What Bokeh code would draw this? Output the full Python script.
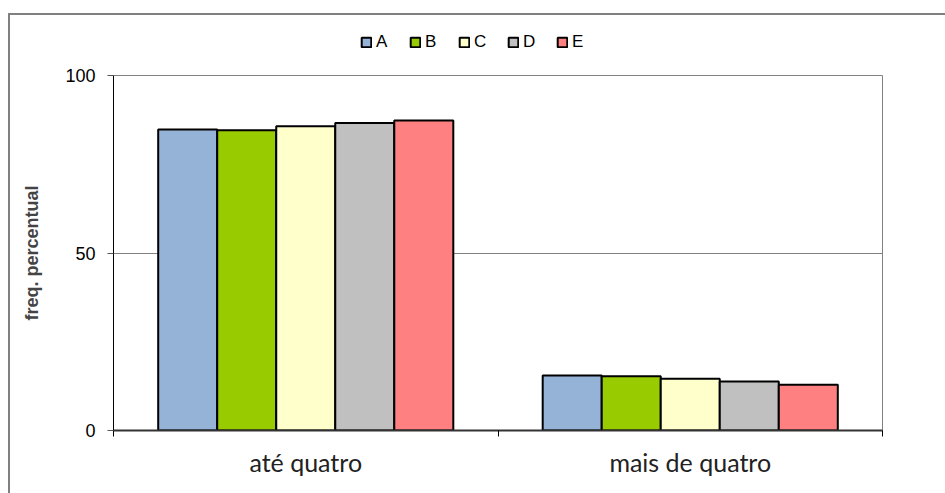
from bokeh.plotting import figure
from bokeh.models import Range1d, FixedTicker, ColumnDataSource, Legend, LegendItem, Grid
from bokeh.layouts import column
from bokeh.embed import file_html
from bokeh.resources import INLINE

categories = ["até quatro", "mais de quatro"]
series = ["A", "B", "C", "D", "E"]
values_A = [84.8, 15.5]
values_B = [84.6, 15.3]
values_C = [85.7, 14.6]
values_D = [86.6, 13.8]
values_E = [87.3, 12.9]
colors = ["#95B3D7", "#99CC00", "#FFFFCC", "#C0C0C0", "#FF8080"]
y_ticks = [0, 50, 100]

all_values = [values_A, values_B, values_C, values_D, values_E]
centers = [i + 0.5 for i in range(len(categories))]
bar_w = 0.1535

# ---- legend strip ----
leg = figure(width=935, height=46, output_backend="svg", toolbar_location=None,
             x_range=Range1d(0, 1), y_range=Range1d(0, 1),
             min_border_left=0, min_border_right=0, min_border_top=0, min_border_bottom=0)
leg.axis.visible = False
leg.grid.visible = False
leg.outline_line_color = None

# ---- main plot ----
p = figure(width=935, height=432, output_backend="svg", toolbar_location=None,
           x_range=Range1d(0, len(categories)), y_range=Range1d(0, 100),
           min_border_left=103, min_border_right=63, min_border_top=14, min_border_bottom=63)

n = len(series)
items = []
for k, (name, vals, col) in enumerate(zip(series, all_values, colors)):
    off = (k - (n - 1) / 2) * bar_w
    src = ColumnDataSource(dict(x=[c + off for c in centers], top=vals))
    p.vbar(x="x", top="top", width=bar_w, bottom=0, source=src, fill_color=col,
           line_color="black", line_width=2)
    # hidden swatch renderer used only for the legend strip
    dummy = leg.vbar(x=[0.5], top=[1], width=0.1, fill_color=col, line_color="black", line_width=2)
    dummy.visible = False
    items.append(LegendItem(label=name, renderers=[dummy]))

p.background_fill_color = "white"
p.border_fill_color = "white"
p.outline_line_color = "#808080"
p.outline_line_width = 1

# x axis
p.xaxis.ticker = FixedTicker(ticks=centers, minor_ticks=list(range(len(categories) + 1)))
p.xaxis.major_label_overrides = {c: lab for c, lab in zip(centers, categories)}
p.xaxis.major_tick_line_color = None
p.xaxis.minor_tick_line_color = "black"
p.xaxis.minor_tick_out = 6
p.xaxis.minor_tick_in = 0
p.xaxis.axis_line_color = "#333333"
p.xaxis.axis_line_width = 2
p.xaxis.major_label_text_font = "Lato"
p.xaxis.major_label_text_font_size = "25px"
p.xaxis.major_label_text_color = "#222222"
p.xaxis.major_label_standoff = 10

# y axis
p.yaxis.ticker = FixedTicker(ticks=y_ticks, minor_ticks=[])
p.yaxis.major_tick_out = 6
p.yaxis.major_tick_in = 0
p.yaxis.major_tick_line_color = "#555555"
p.yaxis.axis_line_color = "black"
p.yaxis.major_label_text_font = "Liberation Sans"
p.yaxis.major_label_text_font_size = "18px"
p.yaxis.major_label_text_color = "black"
p.yaxis.major_label_standoff = 12
p.yaxis.axis_label = "freq. percentual"
p.yaxis.axis_label_text_font = "Liberation Sans"
p.yaxis.axis_label_text_font_style = "bold"
p.yaxis.axis_label_text_font_size = "18px"
p.yaxis.axis_label_standoff = 20

p.xgrid.grid_line_color = None
p.ygrid.ticker = FixedTicker(ticks=[50])
p.ygrid.grid_line_color = "#808080"
p.ygrid.grid_line_width = 1
p.add_layout(Grid(dimension=1, ticker=FixedTicker(ticks=[100]), grid_line_color="#222222",
                  grid_line_width=1))

lg = Legend(items=items, orientation="horizontal", location=(247, 9),
            glyph_width=12, glyph_height=12, label_standoff=4, spacing=13,
            padding=0, margin=0, border_line_color=None, background_fill_alpha=0,
            inactive_fill_alpha=0,
            label_text_font="Liberation Sans", label_text_font_size="17px",
            label_text_color="black")
leg.add_layout(lg)

layout = column(leg, p, spacing=0)
layout.styles = {"margin-top": "13px", "margin-left": "8px",
                 "border-left": "2px solid #808080", "border-top": "2px solid #808080"}

open("out.html", "w").write(file_html(layout, INLINE))
